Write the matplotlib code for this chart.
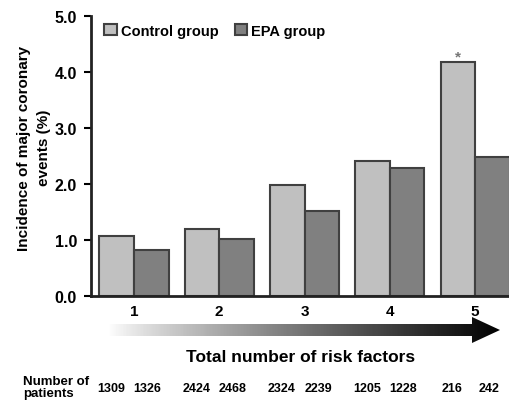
import numpy as np
import matplotlib
matplotlib.use("Agg")
import matplotlib.pyplot as plt
from matplotlib.patches import Polygon
from matplotlib.transforms import blended_transform_factory

plt.rcParams['font.family'] = ['Liberation Sans', 'DejaVu Sans']
plt.rcParams['font.weight'] = 'bold'

categories = ['1', '2', '3', '4', '5']
control = [1.07, 1.20, 1.98, 2.41, 4.18]
epa = [0.82, 1.01, 1.52, 2.28, 2.48]
n_control = [1309, 2424, 2324, 1205, 216]
n_epa = [1326, 2468, 2239, 1228, 242]
yticks = [0.0, 1.0, 2.0, 3.0, 4.0, 5.0]

W, H = 510, 402
fig = plt.figure(figsize=(W / 100, H / 100), dpi=100)

def fx(px):
    return px / W

def fy(py):
    return 1 - py / H

ax = fig.add_axes([fx(91), fy(297), 1 - fx(91), fy(17) - fy(297)])
x = np.arange(len(categories))
w = 0.405
edge = '#404040'
ax.bar(x - w / 2, control, w, color='#c0c0c0', edgecolor=edge, linewidth=1.5,
       label='Control group')
ax.bar(x + w / 2, epa, w, color='#808080', edgecolor=edge, linewidth=1.5,
       label='EPA group')
ax.set_xlim(-0.504, 4.41)
ax.set_ylim(0, 5)
ax.set_yticks(yticks)
ax.set_yticklabels([f'{v:.1f}' for v in yticks], fontsize=11.5, fontweight='bold')
ax.set_xticks(x)
ax.set_xticklabels(categories, fontsize=11, fontweight='bold')
ax.tick_params(axis='x', length=0, pad=6)
ax.tick_params(axis='y', length=5, width=1.5, direction='out', pad=5)
for s in ['top', 'right']:
    ax.spines[s].set_visible(False)
for s in ['left', 'bottom']:
    ax.spines[s].set_linewidth(2)
    ax.spines[s].set_color('#222222')

ax.text(x[4] - w / 2, control[4] - 0.03, '*', ha='center', va='bottom',
        fontsize=11, color='#777777')

ax.set_ylabel('Incidence of major coronary\nevents (%)', fontsize=11,
              fontweight='bold', linespacing=1.5)
ax.yaxis.set_label_coords((51 - 91) / (510 - 91), (297 - 148) / 280)

ax.legend(loc='upper left', bbox_to_anchor=(0.0, 1.02), ncol=2, frameon=False,
          handlelength=0.85, handleheight=0.85, handletextpad=0.3,
          columnspacing=1.1, prop={'weight': 'bold', 'size': 10.5})

# gradient arrow
aax = fig.add_axes([fx(108), fy(345), fx(502) - fx(108), fy(317) - fy(345)])
aax.set_xlim(0, 1)
aax.set_ylim(0, 1)
aax.axis('off')
grad = np.linspace(0, 1, 256).reshape(1, -1)
img = aax.imshow(1 - grad ** 0.85, cmap='gray', vmin=0, vmax=1, aspect='auto',
                 extent=[0, 1, 0, 1])
hx = (472 - 108) / (502 - 108)
tip = (500 - 108) / (502 - 108)
b_lo = (345 - 337) / 28
b_hi = (345 - 325) / 28
h_lo = (345 - 344) / 28
h_hi = (345 - 318) / 28
poly = Polygon([(0, b_lo), (hx, b_lo), (hx, h_lo), (tip, 0.5), (hx, h_hi), (hx, b_hi),
                (0, b_hi)], closed=True, transform=aax.transData, facecolor='none',
               edgecolor='none')
aax.add_patch(poly)
img.set_clip_path(poly)

fig.text(fx(301), fy(358), 'Total number of risk factors', ha='center', va='center',
         fontsize=12.5, fontweight='bold')

fig.text(fx(23), fy(388), 'Number of\npatients', ha='left', va='center',
         fontsize=9.5, fontweight='bold', linespacing=1.05)
tr = blended_transform_factory(ax.transData, fig.transFigure)
for i in range(len(categories)):
    ax.text(x[i] - 0.27, fy(389), str(n_control[i]), transform=tr, ha='center',
            va='center', fontsize=9, fontweight='bold', clip_on=False)
    ax.text(x[i] + 0.16, fy(389), str(n_epa[i]), transform=tr, ha='center',
            va='center', fontsize=9, fontweight='bold', clip_on=False)

fig.savefig('out.png', dpi=100)
